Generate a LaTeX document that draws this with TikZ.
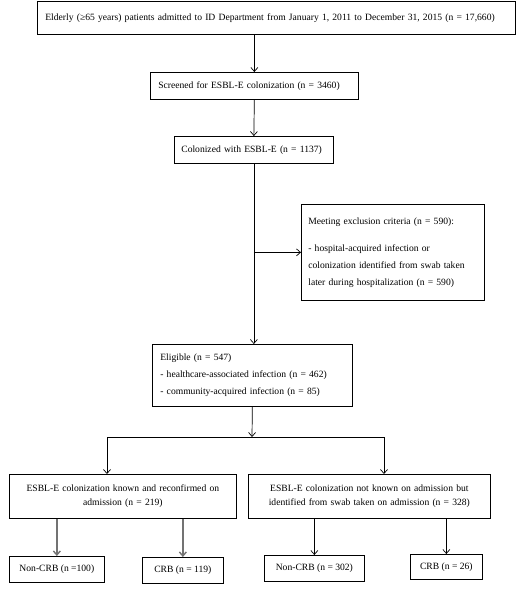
\documentclass[tikz,border=0pt]{standalone}
\usepackage{fontspec}
\setmainfont{Liberation Serif}
\usetikzlibrary{arrows.meta}
\begin{document}
\begin{tikzpicture}[x=1pt,y=-1pt,
  box/.style={draw, line width=0.7pt, inner sep=0pt, font=\fontsize{9.6}{17}\selectfont, anchor=north west},
  arr/.style={draw, line width=0.7pt, -{Straight Barb[length=4pt,width=7pt]}},
  grayarr/.style={arr, draw=black!55, line width=1.4pt}]
\useasboundingbox (0,0) rectangle (522,589);
\node[box, minimum width=478pt, minimum height=33pt, text width=462pt, align=left] (a) at (37,1)
  {Elderly (≥65 years) patients admitted to ID Department from January 1, 2011 to December 31, 2015 (n = 17,660)};
\node[box, minimum width=208pt, minimum height=27pt, text width=192pt, align=left] (b) at (150,72)
  {Screened for ESBL-E colonization (n = 3460)};
\node[box, minimum width=159pt, minimum height=27pt, text width=145pt, align=left] (c) at (174,136)
  {Colonized with ESBL-E (n = 1137)};
\node[box, minimum width=183pt, minimum height=96pt, text width=169pt, align=left] (x) at (301,204)
  {Meeting exclusion criteria (n = 590):\\[10pt]- hospital-acquired infection or\\colonization identified from swab taken\\later during hospitalization (n = 590)};
\node[box, minimum width=200pt, minimum height=62pt, text width=184pt, align=left] (e) at (152,344)
  {Eligible (n = 547)\\- healthcare-associated infection (n = 462)\\- community-acquired infection (n = 85)};
\node[box, minimum width=227pt, minimum height=44pt, text width=215pt, align=center, font=\fontsize{9.6}{14}\selectfont] (l) at (9,474)
  {ESBL-E colonization known and reconfirmed on\\admission (n = 219)};
\node[box, minimum width=242pt, minimum height=44pt, text width=230pt, align=center, font=\fontsize{9.6}{14}\selectfont] (r) at (248,474)
  {ESBL-E colonization not known on admission but\\identified from swab taken on admission (n = 328)};
\node[box, minimum width=95pt, minimum height=26pt] (n1) at (9,556) {Non-CRB (n =100)};
\node[box, minimum width=81pt, minimum height=26pt] (n2) at (142,557) {CRB (n = 119)};
\node[box, minimum width=100pt, minimum height=26pt] (n3) at (264,555) {Non-CRB (n = 302)};
\node[box, minimum width=72pt, minimum height=25pt] (n4) at (410,554) {CRB (n = 26)};
\draw[arr] (a.south -| b.north) -- (b.north);
\draw[arr] (b.south) -- (c.north);
\draw[arr] (c.south) -- (c.south |- e.north);
\coordinate (br) at (c.south |- x.west);
\draw[arr] (br) -- (x.west);
\coordinate (sp) at (252,437);
\coordinate (sl) at (107,437);
\coordinate (sr) at (384,437);
\draw[arr] (e.south) -- (sp);
\draw[line width=0.7pt] (sl) -- (sr);
\draw[arr] (sl) -- (l.north -| sl);
\draw[arr] (sr) -- (r.north -| sr);
\draw[grayarr] (l.south -| n1.north) -- (n1.north);
\draw[grayarr] (l.south -| n2.north) -- (n2.north);
\draw[arr] (r.south -| n3.north) -- (n3.north);
\draw[arr] (r.south -| n4.north) -- (n4.north);
\end{tikzpicture}
\end{document}
